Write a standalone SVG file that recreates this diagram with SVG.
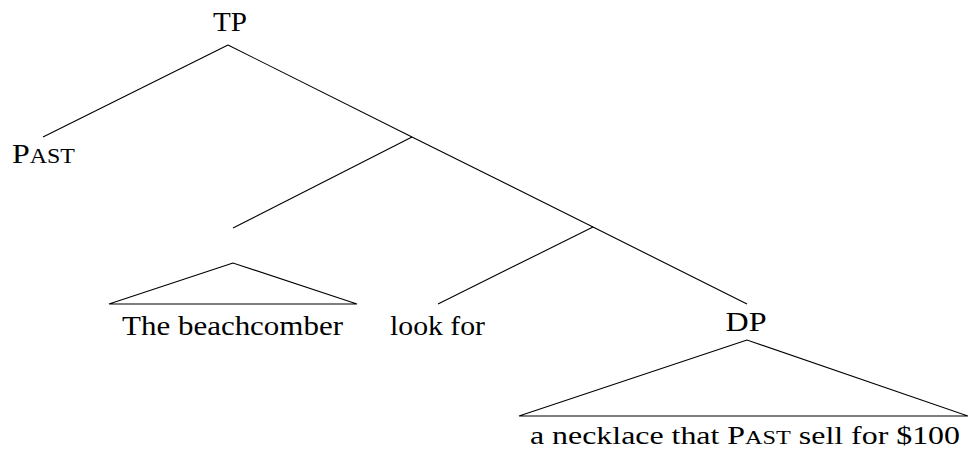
<svg xmlns="http://www.w3.org/2000/svg" width="968" height="450" viewBox="0 0 968 450">
<style>
  text { font-family: "Liberation Serif", "Times New Roman", serif; font-size: 28px; fill: #000; }
  .small { font-size: 25px; }
  .sc { font-size: 21px; }
  .sc2 { font-size: 19px; }
  line, polyline, polygon { stroke: #000; stroke-width: 1.1; fill: none; }
</style>
<rect width="968" height="450" fill="#fff"/>
<g id="connectors">
  <line x1="228" y1="45" x2="43" y2="137"/>
  <line x1="228" y1="45" x2="412" y2="137"/>
  <line x1="412" y1="137" x2="593" y2="227"/>
  <line x1="593" y1="227" x2="747" y2="304"/>
  <line x1="412" y1="137" x2="233" y2="228"/>
  <line x1="593" y1="227" x2="438" y2="304"/>
</g>
<g id="TP"><text x="230" y="31" text-anchor="middle" textLength="34" lengthAdjust="spacingAndGlyphs">TP</text></g>
<g id="PAST"><text x="12" y="163" textLength="63" lengthAdjust="spacingAndGlyphs">P<tspan class="sc">AST</tspan></text></g>
<g id="DPsubj">
  <polygon points="233,263 109,304 357,304"/>
  <text x="122" y="335" textLength="221" lengthAdjust="spacingAndGlyphs">The beachcomber</text>
</g>
<g id="V"><text x="390" y="335" textLength="95" lengthAdjust="spacingAndGlyphs">look for</text></g>
<g id="DP">
  <text x="746" y="331" text-anchor="middle" textLength="41" lengthAdjust="spacingAndGlyphs">DP</text>
  <polygon points="747,340 519,416 968,416"/>
  <text class="small" x="530" y="444" textLength="430" lengthAdjust="spacingAndGlyphs">a necklace that P<tspan class="sc2">AST</tspan> sell for $100</text>
</g>
</svg>
